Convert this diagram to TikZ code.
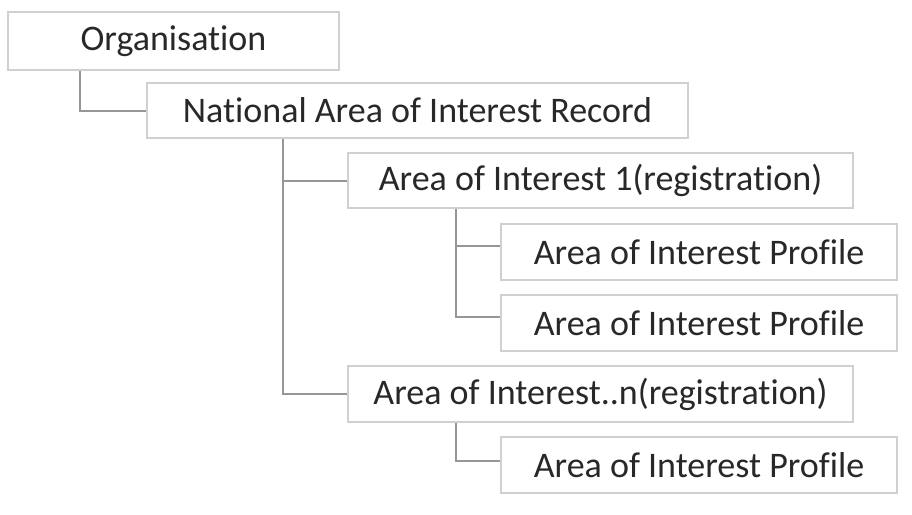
\documentclass[tikz,border=0pt]{standalone}
\usepackage{fontspec}
\setmainfont[Ligatures=NoCommon]{Carlito}
\definecolor{boxline}{RGB}{208,208,208}
\definecolor{conline}{RGB}{150,150,150}
\definecolor{txt}{RGB}{40,40,40}
\tikzset{
  orgbox/.style={draw=boxline, line width=1.6pt, fill=white, text=txt, inner sep=0pt, anchor=center,
     font=\fontsize{36}{43}\selectfont},
  conn/.style={draw=conline, line width=2pt}
}
\begin{document}
\begin{tikzpicture}[x=1pt,y=1pt]
\useasboundingbox (0,0) rectangle (912,-514);
\node[orgbox, minimum width=331pt, minimum height=58pt] (org) at (173.5,-41) {Organisation};
\node[orgbox, minimum width=541pt, minimum height=55pt] (nat) at (417.5,-110.5) {National Area of Interest Record};
\node[orgbox, minimum width=505pt, minimum height=55pt] (a1) at (600.5,-180.5) {Area of Interest 1(registration)};
\node[orgbox, minimum width=396pt, minimum height=56pt] (p1) at (699,-252) {Area of Interest Profile};
\node[orgbox, minimum width=396pt, minimum height=56pt] (p2) at (699,-323) {Area of Interest Profile};
\node[orgbox, minimum width=505pt, minimum height=56pt] (an) at (600.5,-394) {Area of Interest..n(registration)};
\node[orgbox, minimum width=396pt, minimum height=56pt] (p3) at (699,-465) {Area of Interest Profile};
\draw[conn] ([xshift=73pt]org.south west) |- (nat.west);
\draw[conn] ([xshift=137pt]nat.south west) |- (a1.west);
\draw[conn] ([xshift=137pt]nat.south west) |- (an.west);
\draw[conn] ([xshift=109pt]a1.south west) |- ([yshift=6pt]p1.west);
\draw[conn] ([xshift=109pt]a1.south west) |- ([yshift=6pt]p2.west);
\draw[conn] ([xshift=109pt]an.south west) |- ([yshift=4pt]p3.west);
\end{tikzpicture}
\end{document}
